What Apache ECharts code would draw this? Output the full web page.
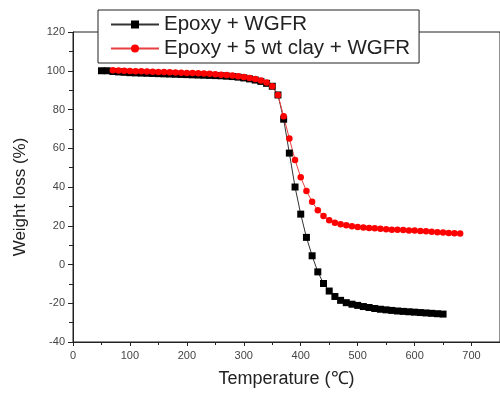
<!DOCTYPE html>
<html><head><meta charset="utf-8">
<script src="https://cdn.jsdelivr.net/npm/echarts@6/dist/echarts.min.js"></script>
<style>html,body{margin:0;padding:0;background:#fff}#c{width:500px;height:395px}</style>
</head><body><div id="c"></div>
<script>
var seriesNames = ['Epoxy + WGFR', 'Epoxy + 5 wt clay + WGFR'];
var blackTemp = [50,60,70,80,90,100,110,120,130,140,150,160,170,180,190,200,210,220,230,240,250,260,270,280,290,300,310,320,330,340,350,360,370,380,390,400,410,420,430,440,450,460,470,480,490,500,510,520,530,540,550,560,570,580,590,600,610,620,630,640,650];
var blackVal = [100.0,100.0,99.6,99.4,99.2,99.0,98.9,98.8,98.7,98.6,98.5,98.4,98.3,98.2,98.1,98.0,97.9,97.8,97.7,97.6,97.5,97.4,97.2,97.0,96.7,96.3,95.8,95.2,94.5,93.5,92.0,87.5,75.0,57.5,40.0,26.0,14.0,4.5,-3.8,-9.8,-13.7,-16.5,-18.5,-19.7,-20.5,-21.1,-21.7,-22.2,-22.7,-23.1,-23.4,-23.7,-24.0,-24.2,-24.4,-24.6,-24.8,-25.0,-25.2,-25.4,-25.6];
var redTemp = [70,80,90,100,110,120,130,140,150,160,170,180,190,200,210,220,230,240,250,260,270,280,290,300,310,320,330,340,350,360,370,380,390,400,410,420,430,440,450,460,470,480,490,500,510,520,530,540,550,560,570,580,590,600,610,620,630,640,650,660,670,680];
var redVal = [100.2,100.1,100.0,99.9,99.8,99.7,99.6,99.5,99.4,99.3,99.2,99.1,99.0,98.9,98.8,98.7,98.6,98.4,98.2,98.0,97.8,97.5,97.2,96.8,96.3,95.7,95.0,94.0,92.0,87.5,76.5,65.0,54.0,45.0,38.0,32.4,28.0,25.0,22.8,21.6,20.8,20.3,19.8,19.4,19.1,18.9,18.7,18.4,18.2,18.0,17.9,17.8,17.6,17.5,17.3,17.1,16.9,16.7,16.5,16.3,16.1,16.0];
var xTitle = 'Temperature (℃)';
var yTitle = 'Weight loss (%)';

function pairs(xs, ys){ return xs.map(function(x,i){ return [x, ys[i]]; }); }
var FONT = '"Liberation Sans", Arial, sans-serif';
var chart = echarts.init(document.getElementById('c'), null, {renderer:'canvas'});
chart.setOption({
  animation: false,
  backgroundColor: '#fff',
  grid: {left: 73, top: 32, bottom: 53, right: -3, show: true, borderColor: '#222', borderWidth: 1, backgroundColor: 'transparent'},
  xAxis: {
    type: 'value', min: 0, max: 750, interval: 100,
    name: xTitle, nameLocation: 'middle', nameGap: 28,
    nameTextStyle: {fontFamily: FONT, fontSize: 18, color: '#222'},
    axisLine: {onZero: false, lineStyle: {color: '#222', width: 1}},
    axisTick: {length: 4, lineStyle: {color: '#222'}},
    minorTick: {show: true, splitNumber: 2, length: 3, lineStyle: {color: '#222'}},
    axisLabel: {fontFamily: FONT, fontSize: 11, color: '#444', margin: 8, showMaxLabel: false},
    splitLine: {show: false}
  },
  yAxis: {
    type: 'value', min: -40, max: 120, interval: 20,
    axisLine: {show: true, lineStyle: {color: '#222', width: 1}},
    axisTick: {show: true, length: 5, lineStyle: {color: '#222'}},
    minorTick: {show: true, splitNumber: 2, length: 4, lineStyle: {color: '#222'}},
    axisLabel: {fontFamily: FONT, fontSize: 11, color: '#444', margin: 8},
    splitLine: {show: false}
  },
  graphic: [{
    type: 'text', x: 20, y: 197, rotation: Math.PI/2,
    style: {text: yTitle, font: '17px ' + FONT, fill: '#222', align: 'center', verticalAlign: 'middle'}
  }],
  legend: {
    orient: 'vertical', left: 98, top: 10,
    backgroundColor: '#fff', borderColor: '#222', borderWidth: 1,
    padding: [4, 9, 4, 12], itemGap: 3, itemWidth: 48, itemHeight: 10,
    textStyle: {fontFamily: FONT, fontSize: 20.5, color: '#222'},
    data: seriesNames
  },
  series: [{
    name: seriesNames[0], type: 'line', data: pairs(blackTemp, blackVal),
    symbol: 'rect', symbolSize: 7, showAllSymbol: true,
    itemStyle: {color: '#000'}, lineStyle: {color: '#333', width: 1}
  }, {
    name: seriesNames[1], type: 'line', data: pairs(redTemp, redVal),
    symbol: 'circle', symbolSize: 6.5, showAllSymbol: true,
    itemStyle: {color: '#ff0000'}, lineStyle: {color: '#e84040', width: 1}
  }]
});
</script></body></html>
